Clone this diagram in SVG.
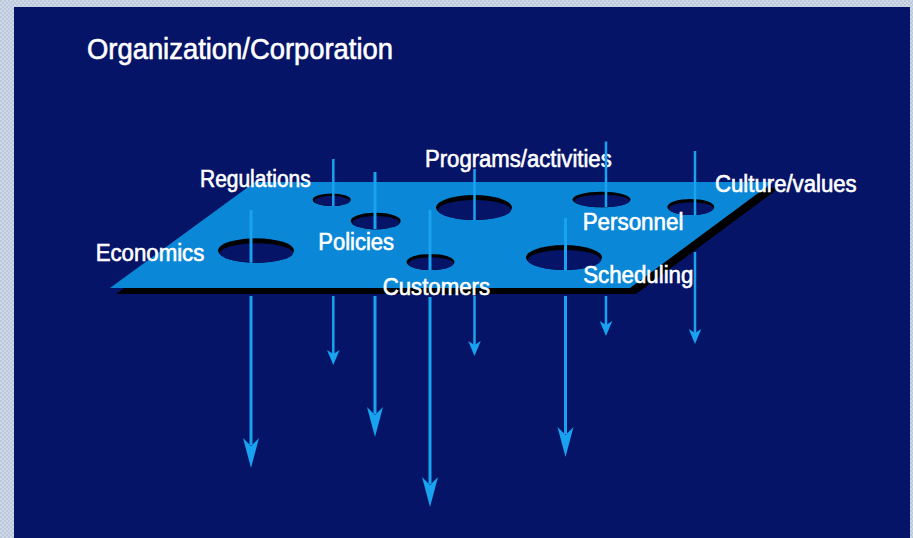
<svg xmlns="http://www.w3.org/2000/svg" width="913" height="538" viewBox="0 0 913 538">
<defs>
<pattern id="chk" width="4" height="4" patternUnits="userSpaceOnUse">
<rect width="4" height="4" fill="#cfd8e6"/>
<rect width="2" height="2" fill="#bcc8db"/>
<rect x="2" y="2" width="2" height="2" fill="#bcc8db"/>
</pattern>
<path id="headL" d="M0,0 L-8,-30 L0,-22 L8,-30 Z"/>
<path id="headS" d="M0,0 L-6.3,-15 L0,-11 L6.3,-15 Z"/>
</defs>
<style>
.lbl{font-family:"Liberation Sans",Arial,sans-serif;font-size:23px;fill:#ffffff;stroke:#ffffff;stroke-width:0.6px}
.title{font-family:"Liberation Sans",Arial,sans-serif;font-size:29px;fill:#ffffff;stroke:#ffffff;stroke-width:0.6px}
.ln{stroke:#18a2f0;fill:none}
.hd{fill:#18a2f0}
.holeO{fill:#000000}
.holeI{fill:#061467}
</style>
<rect width="913" height="538" fill="url(#chk)"/>
<rect x="14" y="7" width="896" height="531" fill="#061467"/>
<text class="title" x="87" y="59" textLength="306" lengthAdjust="spacingAndGlyphs">Organization/Corporation</text>
<g id="plane">
<polygon points="261,188 779,188 636,294 116,294" fill="#000000"/>
<polygon points="255,182 773,182 630,288 110,288" fill="#0a87d6"/>
</g>
<g id="holes">
<g id="hole-economics"><ellipse class="holeO" cx="256" cy="250.5" rx="38" ry="12.2"/><ellipse class="holeI" cx="256.5" cy="253" rx="36.5" ry="9.7"/></g>
<g id="hole-regulations"><ellipse class="holeO" cx="331.7" cy="199.7" rx="19" ry="6.3"/><ellipse class="holeI" cx="332" cy="201" rx="17.5" ry="5"/></g>
<g id="hole-policies"><ellipse class="holeO" cx="375.7" cy="221" rx="25" ry="8.3"/><ellipse class="holeI" cx="376" cy="222.7" rx="23.5" ry="6.6"/></g>
<g id="hole-customers"><ellipse class="holeO" cx="430.5" cy="262" rx="24" ry="8"/><ellipse class="holeI" cx="431" cy="263.6" rx="22.5" ry="6.4"/></g>
<g id="hole-programs"><ellipse class="holeO" cx="474" cy="207.5" rx="38" ry="12.5"/><ellipse class="holeI" cx="474.5" cy="210" rx="36.5" ry="10"/></g>
<g id="hole-personnel"><ellipse class="holeO" cx="601.5" cy="199.5" rx="29" ry="7.8"/><ellipse class="holeI" cx="602" cy="201" rx="27.5" ry="6.3"/></g>
<g id="hole-culture"><ellipse class="holeO" cx="690.8" cy="207" rx="23.5" ry="8"/><ellipse class="holeI" cx="691.2" cy="208.6" rx="22" ry="6.4"/></g>
<g id="hole-scheduling"><ellipse class="holeO" cx="564" cy="257.5" rx="38" ry="12.5"/><ellipse class="holeI" cx="564.5" cy="260" rx="36.5" ry="10"/></g>
</g>
<g id="labels">
<g id="economics"><text class="lbl" x="95.7" y="261" textLength="108.6" lengthAdjust="spacingAndGlyphs">Economics</text></g>
<g id="regulations"><text class="lbl" x="200" y="186.7" textLength="110.7" lengthAdjust="spacingAndGlyphs">Regulations</text></g>
<g id="policies"><text class="lbl" x="318.3" y="250" textLength="75.7" lengthAdjust="spacingAndGlyphs">Policies</text></g>
<g id="customers"><text class="lbl" x="382.7" y="295" textLength="107.3" lengthAdjust="spacingAndGlyphs">Customers</text></g>
<g id="programs"><text class="lbl" x="425" y="166.7" textLength="186.7" lengthAdjust="spacingAndGlyphs">Programs/activities</text></g>
<g id="personnel"><text class="lbl" x="582.7" y="230" textLength="100.7" lengthAdjust="spacingAndGlyphs">Personnel</text></g>
<g id="scheduling"><text class="lbl" x="583.3" y="283.3" textLength="110" lengthAdjust="spacingAndGlyphs">Scheduling</text></g>
<g id="culture"><text class="lbl" x="715" y="191.7" textLength="141.7" lengthAdjust="spacingAndGlyphs">Culture/values</text></g>
</g>
<g id="connectors">
<g stroke-width="3" class="ln">
<path d="M251,210 V262.7 M251,296 V445"/>
<path d="M375,172 V229 M375,296 V414"/>
<path d="M430,210 V270 M430,297 V484"/>
<path d="M565.5,218 V270 M565.5,296 V434"/>
</g>
<g stroke-width="2.5" class="ln">
<path d="M333.3,159 V206 M333.3,296 V355"/>
<path d="M474.5,169 V220 M474.5,296 V346"/>
<path d="M606,141.5 V207 M606,296 V326"/>
<path d="M695,151 V215 M695,252 V334"/>
</g>
<use href="#headL" class="hd" x="251" y="468"/>
<use href="#headL" class="hd" x="375" y="437"/>
<use href="#headL" class="hd" x="430" y="507"/>
<use href="#headL" class="hd" x="565.5" y="457"/>
<use href="#headS" class="hd" x="333.3" y="365"/>
<use href="#headS" class="hd" x="474.5" y="356"/>
<use href="#headS" class="hd" x="606" y="336"/>
<use href="#headS" class="hd" x="695" y="344"/>
</g>
</svg>
